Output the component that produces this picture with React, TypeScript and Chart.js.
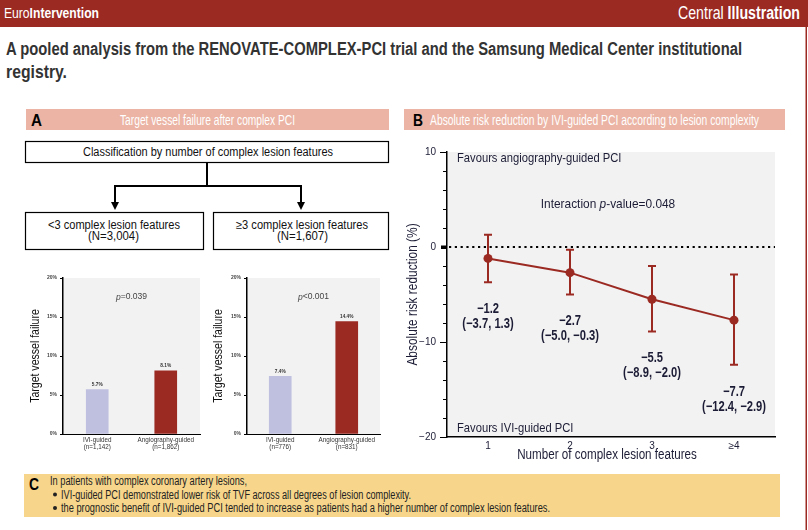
import React, { useEffect, useRef } from 'react';
import { Chart, registerables } from 'chart.js';

Chart.register(...registerables);

// ---------- data ----------
const guidanceGroups = ['IVI-guided', 'Angiography-guided'];

const fewerFeaturesN = ['(n=1,142)', '(n=1,862)'];
const fewerFeaturesTvf = [5.7, 8.1];
const fewerFeaturesP = '=0.039';

const moreFeaturesN = ['(n=776)', '(n=831)'];
const moreFeaturesTvf = [7.4, 14.4];
const moreFeaturesP = '<0.001';

const tvfAxisMax = 20;
const tvfAxisStep = 5;

const featureCounts = ['1', '2', '3', '≥4'];
const riskReduction = [-1.2, -2.7, -5.5, -7.7];
const riskLower = [-3.7, -5.0, -8.9, -12.4];
const riskUpper = [1.3, -0.3, -2.0, -2.9];
const interactionP = '-value=0.048';

const arrAxisMin = -20;
const arrAxisMax = 10;
const arrLabelStep = 10;
const arrMinorStep = 2;

// ---------- styles ----------
const SANS = "'Liberation Sans', Arial, Helvetica, sans-serif";
const DARK_RED = '#9b2a23';
const LAVENDER = '#bfc0e0';
const PINK = '#ebb4a4';
const YELLOW = '#f7d68b';
const PLOT_BG = '#f2f2f2';
const NAVY = '#1c1c36';
// horizontal squeeze that turns the regular face into a condensed look
const SQUEEZE = 0.83;
const SQUEEZE_BOLD = 0.8;

const fmt = (v: number) => (v < 0 ? '\u2212' : '') + Math.abs(v).toFixed(1);

type Seg = { text: string; italic?: boolean; bold?: boolean };

// Draws a run of text segments, condensed horizontally, optionally rotated.
function drawRun(
  ctx: CanvasRenderingContext2D,
  segs: Seg[],
  x: number,
  y: number,
  size: number,
  color: string,
  align: 'left' | 'center',
  squeeze: number,
  rotate = 0
) {
  ctx.save();
  ctx.translate(x, y);
  if (rotate) ctx.rotate(rotate);
  ctx.scale(squeeze, 1);
  ctx.fillStyle = color;
  ctx.textBaseline = 'middle';
  ctx.textAlign = 'left';
  const fonts = segs.map((s) => `${s.italic ? 'italic ' : ''}${s.bold ? 'bold ' : ''}${size}px ${SANS}`);
  const widths = segs.map((s, i) => {
    ctx.font = fonts[i];
    return ctx.measureText(s.text).width;
  });
  const total = widths.reduce((a, b) => a + b, 0);
  let cx = align === 'center' ? -total / 2 : 0;
  segs.forEach((s, i) => {
    ctx.font = fonts[i];
    ctx.fillText(s.text, cx, 0);
    cx += widths[i];
  });
  ctx.restore();
}

const plotBackground = {
  id: 'plotBackground',
  beforeDraw(chart: any) {
    const { ctx, chartArea: a } = chart;
    ctx.save();
    ctx.fillStyle = PLOT_BG;
    ctx.fillRect(a.left, a.top, a.right - a.left, a.bottom - a.top);
    ctx.restore();
  },
};

function tvfDecorations(pRest: string, titleX: number) {
  return {
    id: 'tvfDecorations',
    afterDraw(chart: any) {
      const { ctx, chartArea: a } = chart;
      // value above each bar
      const meta = chart.getDatasetMeta(0);
      const values = chart.data.datasets[0].data as number[];
      meta.data.forEach((bar: any, i: number) => {
        drawRun(ctx, [{ text: values[i].toFixed(1) + '%', bold: true }], bar.x, bar.y - 5, 5.6, '#333', 'center', 0.85);
      });
      // p value
      drawRun(ctx, [{ text: 'p', italic: true }, { text: pRest }], (a.left + a.right) / 2, a.top + 19, 9, '#444', 'center', 0.95);
      // axis title
      drawRun(ctx, [{ text: 'Target vessel failure' }], titleX, (a.top + a.bottom) / 2, 13, '#111', 'center', 0.81, -Math.PI / 2);
    },
  };
}

function tvfConfig(values: number[], ns: string[], pRest: string, axisWidth: number, titleX: number): any {
  return {
    type: 'bar',
    data: {
      labels: guidanceGroups.map((g, i) => [g, ns[i]]),
      datasets: [
        {
          data: values,
          backgroundColor: [LAVENDER, DARK_RED],
          barThickness: 22,
          borderWidth: 0,
        },
      ],
    },
    options: {
      animation: false,
      responsive: false,
      maintainAspectRatio: false,
      layout: { padding: { top: 8, right: 5, left: 0, bottom: 0 } },
      plugins: { legend: { display: false }, tooltip: { enabled: false } },
      scales: {
        x: {
          grid: { display: false, drawTicks: false },
          border: { display: true, color: '#000', width: 1 },
          ticks: {
            font: { family: SANS, size: 6.3, lineHeight: 1.1 },
            color: '#333',
            padding: 3,
            maxRotation: 0,
            autoSkip: false,
          },
          afterFit: (s: any) => {
            s.height = 26;
          },
        },
        y: {
          min: 0,
          max: tvfAxisMax,
          ticks: {
            stepSize: tvfAxisStep,
            callback: (v: any) => v + '%',
            font: { family: SANS, size: 5, weight: 'bold' },
            color: '#444',
            padding: 3,
          },
          grid: { drawOnChartArea: false, drawTicks: true, tickLength: 3, tickColor: '#000', tickWidth: 1 },
          border: { color: '#000', width: 1.5 },
          afterFit: (s: any) => {
            s.width = axisWidth;
          },
        },
      },
    },
    plugins: [plotBackground, tvfDecorations(pRest, titleX)],
  };
}

const zeroLineAndErrors = {
  id: 'zeroLineAndErrors',
  beforeDatasetsDraw(chart: any) {
    const { ctx, chartArea: a, scales } = chart;
    const y0 = scales.y.getPixelForValue(0);
    ctx.save();
    ctx.strokeStyle = '#000';
    ctx.lineWidth = 2.2;
    ctx.setLineDash([2.2, 3.6]);
    ctx.beginPath();
    ctx.moveTo(a.left + 2, y0);
    ctx.lineTo(a.right, y0);
    ctx.stroke();
    ctx.setLineDash([]);
    ctx.strokeStyle = DARK_RED;
    ctx.lineWidth = 2;
    riskReduction.forEach((_, i) => {
      const x = scales.x.getPixelForValue(i);
      const yl = scales.y.getPixelForValue(riskLower[i]);
      const yh = scales.y.getPixelForValue(riskUpper[i]);
      ctx.beginPath();
      ctx.moveTo(x, yl);
      ctx.lineTo(x, yh);
      ctx.moveTo(x - 4, yl);
      ctx.lineTo(x + 4, yl);
      ctx.moveTo(x - 4, yh);
      ctx.lineTo(x + 4, yh);
      ctx.stroke();
    });
    ctx.restore();
  },
};

const yTickMarks = {
  id: 'yTickMarks',
  afterDraw(chart: any) {
    const { ctx, chartArea: a, scales } = chart;
    ctx.save();
    ctx.strokeStyle = '#000';
    ctx.fillStyle = '#000';
    ctx.lineWidth = 1;
    for (let v = arrAxisMin; v <= arrAxisMax; v += arrMinorStep) {
      const py = Math.round(scales.y.getPixelForValue(v)) + 0.5;
      if (v === 0) {
        ctx.fillRect(a.left - 6, py - 2, 6, 3.5);
        continue;
      }
      const len = v % arrLabelStep === 0 ? 7 : 4;
      ctx.beginPath();
      ctx.moveTo(a.left - len, py);
      ctx.lineTo(a.left, py);
      ctx.stroke();
    }
    ctx.restore();
  },
};

const arrAnnotations = {
  id: 'arrAnnotations',
  afterDraw(chart: any) {
    const { ctx, chartArea: a, scales } = chart;
    const mid = (a.left + a.right) / 2;
    drawRun(ctx, [{ text: 'Favours angiography-guided PCI' }], a.left + 10, a.top + 6, 13.5, NAVY, 'left', SQUEEZE);
    drawRun(ctx, [{ text: 'Interaction ' }, { text: 'p', italic: true }, { text: interactionP }], mid - 3, a.top + 52, 13.5, NAVY, 'center', 0.88);
    drawRun(ctx, [{ text: 'Favours IVI-guided PCI' }], a.left + 10, a.bottom - 9, 13.5, NAVY, 'left', SQUEEZE);

    // axis titles
    drawRun(ctx, [{ text: 'Absolute risk reduction (%)' }], 13, (a.top + a.bottom) / 2, 14, NAVY, 'center', 0.85, -Math.PI / 2);
    drawRun(ctx, [{ text: 'Number of complex lesion features' }], mid - 4, a.bottom + 18.5, 14, NAVY, 'center', SQUEEZE);

    // estimate and 95% CI under each point
    riskReduction.forEach((v, i) => {
      const x = scales.x.getPixelForValue(i);
      const yl = scales.y.getPixelForValue(riskLower[i]);
      drawRun(ctx, [{ text: fmt(v), bold: true }], x, yl + 27, 14, NAVY, 'center', SQUEEZE_BOLD);
      drawRun(ctx, [{ text: `(${fmt(riskLower[i])}, ${fmt(riskUpper[i])})`, bold: true }], x, yl + 42, 14, NAVY, 'center', SQUEEZE_BOLD);
    });
  },
};

function arrConfig(): any {
  return {
    type: 'line',
    data: {
      labels: featureCounts,
      datasets: [
        {
          data: riskReduction,
          borderColor: DARK_RED,
          backgroundColor: DARK_RED,
          borderWidth: 2,
          pointRadius: 4.5,
          pointBackgroundColor: DARK_RED,
          pointBorderWidth: 0,
          tension: 0,
        },
      ],
    },
    options: {
      animation: false,
      responsive: false,
      maintainAspectRatio: false,
      layout: { padding: { top: 9, right: 15, left: 0, bottom: 0 } },
      plugins: { legend: { display: false }, tooltip: { enabled: false } },
      scales: {
        x: {
          type: 'category',
          offset: true,
          grid: { display: false, drawTicks: false },
          border: { color: '#000', width: 1.5 },
          ticks: { font: { family: SANS, size: 10 }, color: NAVY, padding: 3 },
          afterFit: (s: any) => {
            s.height = 28;
          },
        },
        y: {
          min: arrAxisMin,
          max: arrAxisMax,
          ticks: {
            stepSize: arrLabelStep,
            callback: (v: any) => (v < 0 ? '\u2212' + Math.abs(v) : String(v)),
            font: { family: SANS, size: 10 },
            color: NAVY,
            padding: 11,
          },
          grid: { drawOnChartArea: false, drawTicks: false },
          border: { color: '#000', width: 1.5 },
          afterFit: (s: any) => {
            s.width = 47;
          },
        },
      },
    },
    plugins: [plotBackground, zeroLineAndErrors, yTickMarks, arrAnnotations],
  };
}

function ChartCanvas({ left, top, width, height, config }: { left: number; top: number; width: number; height: number; config: () => any }) {
  const ref = useRef<HTMLCanvasElement | null>(null);
  useEffect(() => {
    if (!ref.current) return;
    const chart = new Chart(ref.current, config());
    return () => chart.destroy();
  }, []);
  return (
    <canvas
      ref={ref}
      width={width}
      height={height}
      style={{ position: 'absolute', left, top, width, height }}
    />
  );
}

const textFit = { lengthAdjust: 'spacingAndGlyphs' as const };

export default function App() {
  return (
    <div style={{ position: 'absolute', left: 0, top: 0, width: 808, height: 530, background: '#fff', overflow: 'hidden' }}>
      <svg width={808} height={530} style={{ position: 'absolute', left: 0, top: 0 }} fontFamily={SANS}>
        {/* masthead */}
        <rect x={0} y={0} width={808} height={27} fill={DARK_RED} />
        <rect x={805.5} y={27} width={1.5} height={503} fill={DARK_RED} />
        <text x={4} y={18} fill="#fff" fontSize={14} textLength={95} {...textFit}>
          <tspan>Euro</tspan>
          <tspan fontWeight="bold">Intervention</tspan>
        </text>
        <text x={800} y={19} fill="#fff" fontSize={17.5} textAnchor="end" textLength={122} {...textFit}>
          <tspan>Central </tspan>
          <tspan fontWeight="bold">Illustration</tspan>
        </text>

        {/* title */}
        <text x={6} y={55} fill="#333" fontWeight="bold" fontSize={18} textLength={736} {...textFit}>
          A pooled analysis from the RENOVATE-COMPLEX-PCI trial and the Samsung Medical Center institutional
        </text>
        <text x={6} y={78} fill="#333" fontWeight="bold" fontSize={18} textLength={61} {...textFit}>
          registry.
        </text>

        {/* panel headers */}
        <rect x={26} y={109} width={363} height={21} fill={PINK} />
        <text x={31} y={126} fill="#000" fontWeight="bold" fontSize={17} textLength={11} {...textFit}>A</text>
        <text x={120} y={124.5} fill="#fff" fontSize={14} textLength={175} {...textFit}>
          Target vessel failure after complex PCI
        </text>
        <rect x={404} y={109} width={381} height={21} fill={PINK} />
        <text x={413} y={126} fill="#000" fontWeight="bold" fontSize={17} textLength={10} {...textFit}>B</text>
        <text x={430} y={124.5} fill="#fff" fontSize={14} textLength={329} {...textFit}>
          Absolute risk reduction by IVI-guided PCI according to lesion complexity
        </text>

        {/* classification flow */}
        <g fill="none" stroke="#000">
          <rect x={25.5} y={141.5} width={363} height={21} strokeWidth={1.2} />
          <rect x={25.5} y={212.5} width={178} height={37} strokeWidth={1.2} />
          <rect x={213.5} y={212.5} width={175} height={37} strokeWidth={1.2} />
          <path d="M207 162.5 V186 M115 186 H301 M115 185 V204 M301 185 V204" strokeWidth={2} />
        </g>
        <polygon points="111,202 119,202 115,210" fill="#000" />
        <polygon points="297,202 305,202 301,210" fill="#000" />
        <g fill="#111" fontSize={12} textAnchor="middle">
          <text x={208} y={156} textLength={250} {...textFit}>Classification by number of complex lesion features</text>
          <text x={114} y={229} textLength={132} {...textFit}>&lt;3 complex lesion features</text>
          <text x={113.5} y={240} textLength={51} {...textFit}>(N=3,004)</text>
          <text x={302} y={229} textLength={132} {...textFit}>≥3 complex lesion features</text>
          <text x={302.5} y={240} textLength={51} {...textFit}>(N=1,607)</text>
        </g>

        {/* summary */}
        <rect x={24} y={474} width={756} height={43} fill={YELLOW} />
        <text x={29} y={490} fill="#000" fontWeight="bold" fontSize={17} textLength={10} {...textFit}>C</text>
        <g fill="#222" fontSize={12}>
          <text x={50} y={485} textLength={197} {...textFit}>In patients with complex coronary artery lesions,</text>
          <circle cx={55} cy={494.5} r={2} />
          <text x={61} y={498.5} textLength={350} {...textFit}>IVI-guided PCI demonstrated lower risk of TVF across all degrees of lesion complexity.</text>
          <circle cx={55} cy={508} r={2} />
          <text x={61} y={512} textLength={489} {...textFit}>the prognostic benefit of IVI-guided PCI tended to increase as patients had a higher number of complex lesion features.</text>
        </g>
      </svg>

      <ChartCanvas
        left={20}
        top={270}
        width={185}
        height={190}
        config={() => tvfConfig(fewerFeaturesTvf, fewerFeaturesN, fewerFeaturesP, 43, 15)}
      />
      <ChartCanvas
        left={205}
        top={270}
        width={180}
        height={190}
        config={() => tvfConfig(moreFeaturesTvf, moreFeaturesN, moreFeaturesP, 42, 13)}
      />
      <ChartCanvas left={400} top={135} width={390} height={330} config={arrConfig} />
    </div>
  );
}
